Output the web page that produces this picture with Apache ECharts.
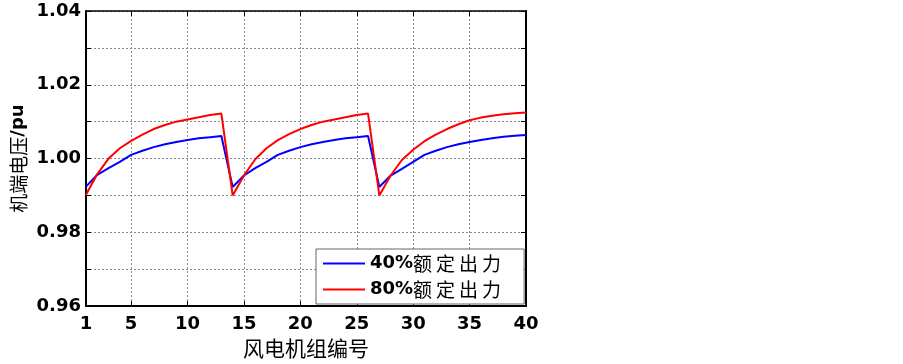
<!DOCTYPE html>
<html>
<head>
<meta charset="utf-8">
<script src="https://cdn.jsdelivr.net/npm/echarts@6/dist/echarts.min.js"></script>
<style>
  html, body { margin: 0; padding: 0; background: #fff; }
  #view1Data { width: 903px; height: 364px; }
</style>
</head>
<body>
<div id="view1Data"></div>
<script>
// turbine number 1..40
const turbines = ['1', '2', '3', '4', '5', '6', '7', '8', '9', '10',
  '11', '12', '13', '14', '15', '16', '17', '18', '19', '20',
  '21', '22', '23', '24', '25', '26', '27', '28', '29', '30',
  '31', '32', '33', '34', '35', '36', '37', '38', '39', '40']
const xLabelShown = ['1', '5', '10', '15', '20', '25', '30', '35', '40']
const yLabelShown = ['0.96', '0.98', '1.00', '1.02', '1.04']

// terminal voltage (pu)
const load40 = [
  0.9924, 0.9956, 0.9974, 0.9991, 1.0010, 1.0021, 1.0031, 1.0039, 1.0045, 1.0050, 1.0055, 1.0058, 1.0061,
  0.9923, 0.9954, 0.9974, 0.9991, 1.0010, 1.0021, 1.0031, 1.0039, 1.0045, 1.0050, 1.0055, 1.0058, 1.0061,
  0.9923, 0.9954, 0.9972, 0.9991, 1.0010, 1.0021, 1.0031, 1.0039, 1.0045, 1.0050, 1.0055, 1.0059, 1.0062, 1.0064
]
const load80 = [
  0.9902, 0.9958, 1.0000, 1.0028, 1.0048, 1.0065, 1.0080, 1.0091, 1.0100, 1.0106, 1.0112, 1.0118, 1.0122,
  0.9900, 0.9954, 0.9998, 1.0028, 1.0050, 1.0066, 1.0080, 1.0091, 1.0100, 1.0106, 1.0112, 1.0118, 1.0122,
  0.9900, 0.9954, 0.9996, 1.0024, 1.0047, 1.0065, 1.0080, 1.0093, 1.0104, 1.0111, 1.0116, 1.0120, 1.0123, 1.0125
]
const seriesNames = ['40%额定出力', '80%额定出力']

const numFont = 'DejaVu Sans'
const cjkFont = 'Noto Sans CJK SC'
const gridTick = (idx) => (idx + 1) % 5 === 0 && idx !== 39
const labelTick = (idx, val) => xLabelShown.indexOf(val) >= 0

let myChart = echarts.init(document.getElementById('view1Data'))
myChart.setOption({
  animation: false,
  backgroundColor: '#fff',
  grid: { left: 86, right: 377, top: 11, bottom: 47 },
  legend: {
    orient: 'vertical',
    left: 316,
    top: 249,
    data: seriesNames.map(n => ({ name: n, icon: 'rect' })),
    backgroundColor: '#fff',
    borderColor: '#666',
    borderWidth: 1,
    borderRadius: 0,
    padding: [5, 19, 5, 7],
    itemGap: 7,
    itemWidth: 42,
    itemHeight: 2,
    formatter: (name) => '{a|' + name.slice(0, 3) + '}' + name.slice(3).split('').map(c => '{c|' + c + '}').join(''),
    textStyle: {
      rich: {
        a: { fontFamily: numFont, fontWeight: 'bold', fontSize: 18, color: '#000', lineHeight: 20 },
        c: { fontFamily: cjkFont, fontSize: 19, width: 23, color: '#000', lineHeight: 20 },
      },
    },
  },
  xAxis: [
    {
      type: 'category',
      data: turbines,
      boundaryGap: false,
      position: 'bottom',
      name: '风电机组编号',
      nameLocation: 'middle',
      nameGap: 26,
      nameTextStyle: { fontFamily: cjkFont, fontSize: 21, color: '#000' },
      axisLine: { lineStyle: { color: '#000', width: 2 } },
      axisTick: { inside: true, length: 5, interval: labelTick, lineStyle: { color: '#000' } },
      axisLabel: { interval: labelTick, margin: 9, color: '#000', fontFamily: numFont, fontWeight: 'bold', fontSize: 18 },
      splitLine: { show: true, interval: gridTick, lineStyle: { color: '#8a8a8a', type: [2, 2], width: 1 } },
    },
    {
      type: 'category',
      data: turbines,
      boundaryGap: false,
      position: 'top',
      axisLine: { lineStyle: { color: '#000', width: 1.5 } },
      axisTick: { inside: true, length: 5, interval: labelTick, lineStyle: { color: '#000' } },
      axisLabel: { show: false },
      splitLine: { show: false },
    },
  ],
  yAxis: [
    {
      type: 'value',
      min: 0.96,
      max: 1.04,
      interval: 0.01,
      position: 'left',
      name: '{a|机端电压}{b|/pu}',
      nameLocation: 'middle',
      nameGap: 58,
      nameTextStyle: {
        rich: {
          a: { fontFamily: cjkFont, fontSize: 19, color: '#000' },
          b: { fontFamily: numFont, fontWeight: 'bold', fontSize: 18, color: '#000' },
        },
      },
      axisLine: { show: true, lineStyle: { color: '#000', width: 2 } },
      axisTick: { show: true, inside: true, length: 5, lineStyle: { color: '#000' } },
      axisLabel: {
        margin: 5,
        color: '#000',
        fontFamily: numFont,
        fontWeight: 'bold',
        fontSize: 18,
        formatter: (v) => {
          const s = v.toFixed(2)
          return yLabelShown.indexOf(s) >= 0 ? s : ''
        },
      },
      splitLine: { show: true, lineStyle: { color: '#8a8a8a', type: [2, 2], width: 1 } },
    },
    {
      type: 'value',
      min: 0.96,
      max: 1.04,
      interval: 0.01,
      position: 'right',
      axisLine: { show: true, lineStyle: { color: '#000', width: 2 } },
      axisTick: { show: true, inside: true, length: 5, lineStyle: { color: '#000' } },
      axisLabel: { show: false },
      splitLine: { show: false },
    },
  ],
  series: [
    {
      name: seriesNames[0],
      type: 'line',
      data: load40,
      symbol: 'none',
      lineStyle: { color: '#0000ff', width: 2 },
      itemStyle: { color: '#0000ff' },
      z: 3,
    },
    {
      name: seriesNames[1],
      type: 'line',
      data: load80,
      symbol: 'none',
      lineStyle: { color: '#ff0000', width: 2 },
      itemStyle: { color: '#ff0000' },
      z: 4,
    },
  ],
})

window.addEventListener('resize', () => {
  myChart.resize()
})
</script>
</body>
</html>
